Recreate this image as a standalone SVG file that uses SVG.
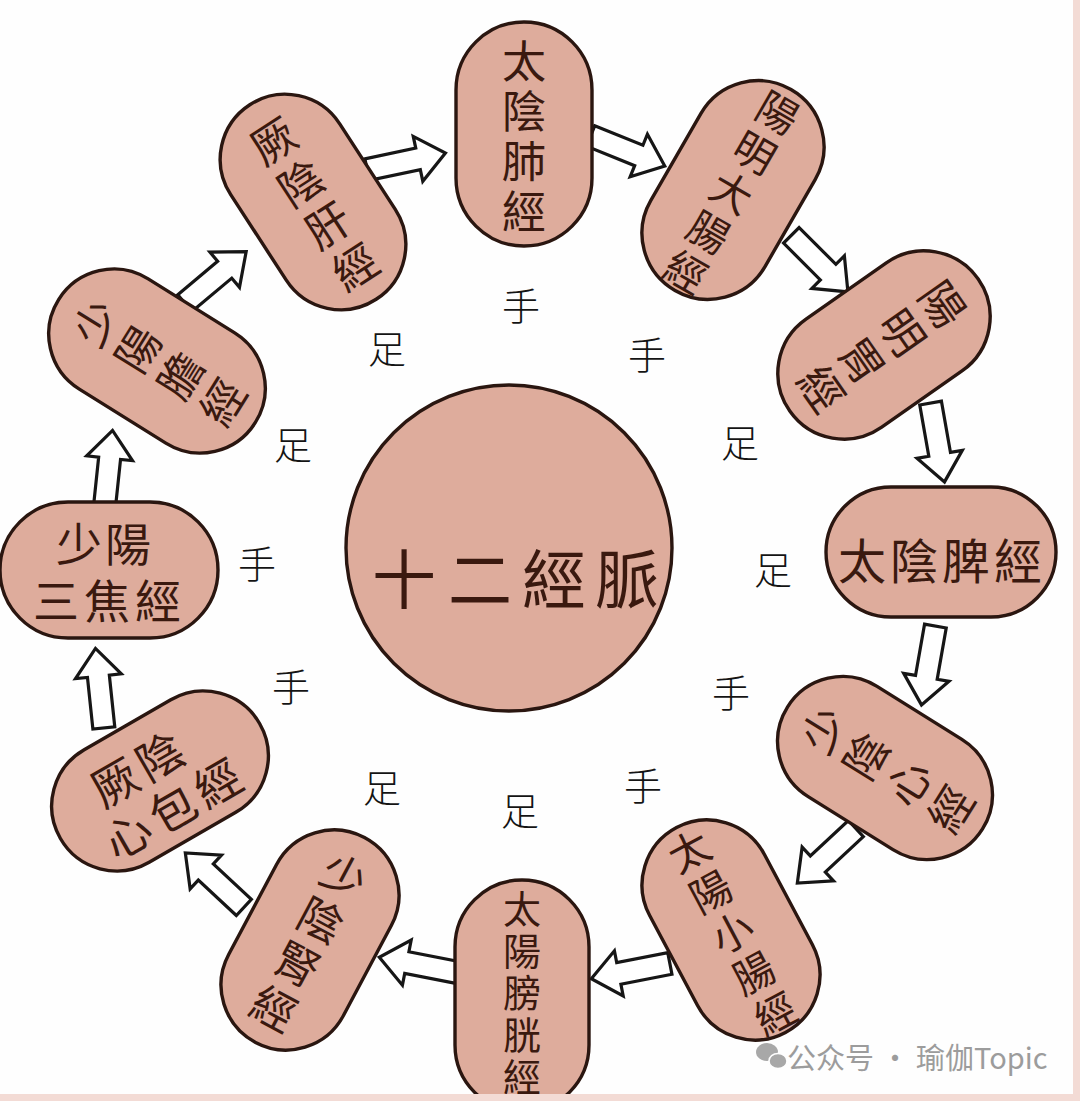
<svg xmlns="http://www.w3.org/2000/svg" width="1080" height="1101" viewBox="0 0 1080 1101">
<defs>
<style>
.cap{fill:#deac9c;stroke:#2a1610;stroke-width:3.4}
.ct{font-family:"Noto Sans CJK TC","Noto Sans CJK SC",sans-serif;font-size:44px;fill:#3a190f;text-anchor:middle;dominant-baseline:central}
.arr{fill:#ffffff;stroke:#161616;stroke-width:3.2;stroke-linejoin:miter}
.hf{font-family:"Noto Sans CJK TC","Noto Sans CJK SC",sans-serif;font-size:38px;font-weight:300;fill:#141414;text-anchor:middle;dominant-baseline:central}
.wm{font-family:"Noto Sans CJK SC","Noto Sans",sans-serif;font-size:29px;fill:#9c9c9c}
</style>
<path id="arrow" d="M-8,-11 H44 V-23 L72,0 L44,23 V11 H-8 Z"/>
</defs>
<rect x="0" y="0" width="1080" height="1101" fill="#fefefe"/>
<rect x="1073" y="0" width="7" height="1101" fill="#f3dbd5"/>

<g id="connectors">
<use href="#arrow" class="arr" transform="translate(375,168) rotate(-12)"/>
<use href="#arrow" class="arr" transform="translate(598,139) rotate(22)"/>
<use href="#arrow" class="arr" transform="translate(797,241) rotate(45)"/>
<use href="#arrow" class="arr" transform="translate(932,411) rotate(80)"/>
<use href="#arrow" class="arr" transform="translate(934,634) rotate(100)"/>
<use href="#arrow" class="arr" transform="translate(850,834) rotate(137)"/>
<use href="#arrow" class="arr" transform="translate(662,965) rotate(169)"/>
<use href="#arrow" class="arr" transform="translate(450,971) rotate(191)"/>
<use href="#arrow" class="arr" transform="translate(238,902) rotate(223)"/>
<use href="#arrow" class="arr" transform="translate(103,720) rotate(264)"/>
<use href="#arrow" class="arr" transform="translate(105,502) rotate(-84)"/>
<use href="#arrow" class="arr" transform="translate(191,298) rotate(-40)"/>
</g>

<g id="center">
<circle cx="509" cy="548" r="163" class="cap"/>
<text class="ct" style="font-size:64px"><tspan x="404" y="575">十</tspan><tspan x="480" y="575">二</tspan><tspan x="554" y="575">經</tspan><tspan x="627" y="575">脈</tspan></text>
</g>

<g id="n-fei" transform="translate(524,134)">
<rect class="cap" x="-68" y="-112" width="136" height="224" rx="68"/>
<text class="ct"><tspan x="0" y="-75">太</tspan><tspan x="0" y="-25">陰</tspan><tspan x="0" y="25">肺</tspan><tspan x="0" y="75">經</tspan></text>
</g>

<g id="n-dachang" transform="translate(733,190) rotate(30)">
<rect class="cap" x="-66" y="-116" width="132" height="232" rx="66"/>
<text class="ct" style="font-size:41px"><tspan x="0" y="-92">陽</tspan><tspan x="0" y="-46">明</tspan><tspan x="0" y="0">大</tspan><tspan x="0" y="46">腸</tspan><tspan x="0" y="92">經</tspan></text>
</g>

<g id="n-wei" transform="translate(884,345) rotate(55)">
<rect class="cap" x="-66" y="-115" width="132" height="230" rx="66"/>
<text class="ct"><tspan x="0" y="-74">陽</tspan><tspan x="0" y="-24.7">明</tspan><tspan x="0" y="24.7">胃</tspan><tspan x="0" y="74">經</tspan></text>
</g>

<g id="n-pi" transform="translate(941,552)">
<rect class="cap" x="-115" y="-65" width="230" height="130" rx="65"/>
<text class="ct" style="font-size:48px"><tspan x="-79" y="6">太</tspan><tspan x="-27" y="6">陰</tspan><tspan x="25" y="6">脾</tspan><tspan x="77" y="6">經</tspan></text>
</g>

<g id="n-xin" transform="translate(885,768) rotate(-58)">
<rect class="cap" x="-65" y="-115" width="130" height="230" rx="65"/>
<text class="ct"><tspan x="0" y="-75">少</tspan><tspan x="0" y="-25">陰</tspan><tspan x="0" y="25">心</tspan><tspan x="0" y="75">經</tspan></text>
</g>

<g id="n-xiaochang" transform="translate(731,930) rotate(-28)">
<rect class="cap" x="-65" y="-116" width="130" height="232" rx="65"/>
<text class="ct" style="font-size:41px"><tspan x="0" y="-92">太</tspan><tspan x="0" y="-46">陽</tspan><tspan x="0" y="0">小</tspan><tspan x="0" y="46">腸</tspan><tspan x="0" y="92">經</tspan></text>
</g>

<g id="n-pangguang" transform="translate(522,996)">
<rect class="cap" x="-67" y="-116" width="134" height="232" rx="67"/>
<text class="ct" style="font-size:38px" x="0" y="-90">太</text>
<text class="ct" style="font-size:38px" x="0" y="-48">陽</text>
<text class="ct" style="font-size:38px" x="0" y="-6">膀</text>
<text class="ct" style="font-size:38px" x="0" y="36">胱</text>
<text class="ct" style="font-size:38px" x="0" y="78">經</text>
</g>

<g id="n-shen" transform="translate(310,940) rotate(28)">
<rect class="cap" x="-65" y="-116" width="130" height="232" rx="65"/>
<text class="ct"><tspan x="0" y="-75">少</tspan><tspan x="0" y="-25">陰</tspan><tspan x="0" y="25">腎</tspan><tspan x="0" y="75">經</tspan></text>
</g>

<g id="n-xinbao" transform="translate(160,781) rotate(-30)">
<rect class="cap" x="-115" y="-65" width="230" height="130" rx="65"/>
<text class="ct" style="font-size:46px"><tspan x="-40" y="-24">厥</tspan><tspan x="12" y="-24">陰</tspan><tspan x="-55" y="28">心</tspan><tspan x="-3" y="28">包</tspan><tspan x="49" y="28">經</tspan></text>
</g>

<g id="n-sanjiao" transform="translate(109,570)">
<rect class="cap" x="-109" y="-68" width="218" height="136" rx="68"/>
<text class="ct" style="font-size:46px"><tspan x="-30" y="-29">少</tspan><tspan x="19" y="-29">陽</tspan><tspan x="-53" y="28">三</tspan><tspan x="-2" y="28">焦</tspan><tspan x="49" y="28">經</tspan></text>
</g>

<g id="n-dan" transform="translate(157,361) rotate(-58)">
<rect class="cap" x="-65" y="-116" width="130" height="232" rx="65"/>
<text class="ct"><tspan x="0" y="-75">少</tspan><tspan x="0" y="-25">陽</tspan><tspan x="0" y="25">膽</tspan><tspan x="0" y="75">經</tspan></text>
</g>

<g id="n-gan" transform="translate(313,202) rotate(-33)">
<rect class="cap" x="-65" y="-116" width="130" height="232" rx="65"/>
<text class="ct"><tspan x="0" y="-75">厥</tspan><tspan x="0" y="-25">陰</tspan><tspan x="0" y="25">肝</tspan><tspan x="0" y="75">經</tspan></text>
</g>

<rect x="0" y="1094" width="1080" height="7" fill="#f3dbd5"/>

<g id="labels">
<text class="hf" x="521" y="303">手</text>
<text class="hf" x="387" y="346">足</text>
<text class="hf" x="647" y="352">手</text>
<text class="hf" x="293" y="442">足</text>
<text class="hf" x="740" y="440">足</text>
<text class="hf" x="257" y="561">手</text>
<text class="hf" x="773" y="567">足</text>
<text class="hf" x="291" y="684">手</text>
<text class="hf" x="731" y="690">手</text>
<text class="hf" x="382" y="785">足</text>
<text class="hf" x="643" y="783">手</text>
<text class="hf" x="520" y="808">足</text>
</g>

<g id="watermark">
<ellipse cx="767" cy="1052" rx="11" ry="9" fill="#a8a8a8"/>
<ellipse cx="778" cy="1061" rx="9" ry="7.5" fill="#a8a8a8" stroke="#fefefe" stroke-width="1.5"/>
<text class="wm" x="787" y="1069">公众号 · 瑜伽Topic</text>
</g>
</svg>
